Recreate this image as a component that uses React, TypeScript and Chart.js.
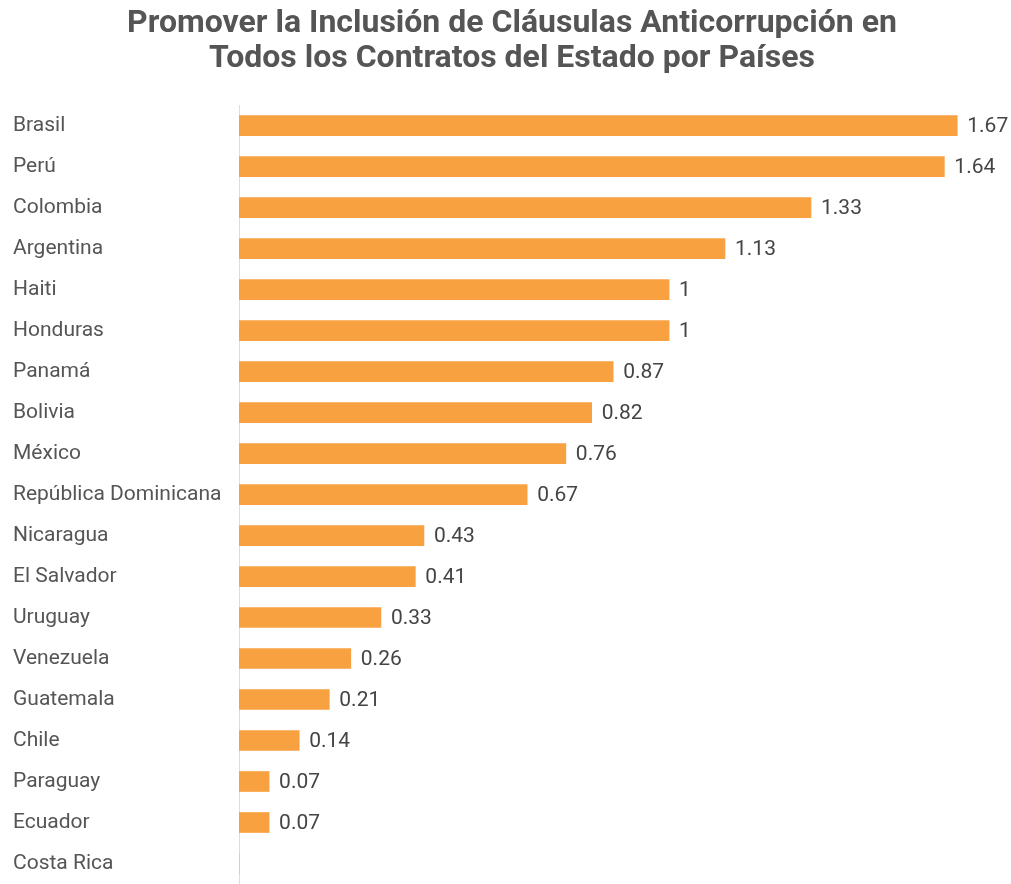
import React, { useEffect, useRef } from "react";
import { Chart, registerables } from "chart.js";

Chart.register(...registerables);

const countries = [
  "Brasil", "Perú", "Colombia", "Argentina", "Haiti", "Honduras", "Panamá", "Bolivia",
  "México", "República Dominicana", "Nicaragua", "El Salvador", "Uruguay", "Venezuela",
  "Guatemala", "Chile", "Paraguay", "Ecuador", "Costa Rica",
];
const values = [1.67, 1.64, 1.33, 1.13, 1, 1, 0.87, 0.82, 0.76, 0.67, 0.43, 0.41, 0.33, 0.26, 0.21, 0.14, 0.07, 0.07, 0];
const titleLines = [
  "Promover la Inclusión de Cláusulas Anticorrupción en",
  "Todos los Contratos del Estado por Países",
];

const valueLabels = {
  id: "valueLabels",
  afterDatasetsDraw(chart: any) {
    const ctx = chart.ctx;
    const meta = chart.getDatasetMeta(0);
    ctx.save();
    ctx.font = "21px Roboto";
    ctx.fillStyle = "#444444";
    ctx.textAlign = "left";
    ctx.textBaseline = "middle";
    meta.data.forEach((bar: any, i: number) => {
      const v = values[i];
      if (!v) return;
      ctx.fillText(String(v), bar.x + 10, bar.y + 1);
    });
    ctx.restore();
  },
};

export default function App() {
  const ref = useRef<HTMLCanvasElement | null>(null);
  useEffect(() => {
    if (!ref.current) return;
    const chart = new Chart(ref.current, {
      type: "bar",
      data: {
        labels: countries,
        datasets: [
          {
            data: values,
            backgroundColor: "#F8A140",
            barThickness: 20,
          },
        ],
      },
      options: {
        indexAxis: "y",
        responsive: false,
        animation: false,
        layout: { padding: { left: 13, right: 0, top: 0, bottom: 0 } },
        plugins: {
          legend: { display: false },
          tooltip: { enabled: false },
          title: {
            display: true,
            text: titleLines,
            color: "#555555",
            font: { family: "Roboto", size: 32, weight: "bold", lineHeight: 1.08 },
            padding: { top: 7, bottom: 29 },
          },
        },
        scales: {
          x: { display: false, min: 0, max: 1.795 },
          y: {
            grid: { display: false },
            border: { display: true, color: "#dddddd", width: 1 },
            ticks: {
              crossAlign: "far",
              color: "#555555",
              font: { family: "Roboto", size: 21 },
            },
            afterFit(scale: any) {
              scale.width = 226;
              scale.paddingTop = 0;
              scale.paddingBottom = 0;
            },
          },
        },
      },
      plugins: [valueLabels],
    } as any);
    return () => chart.destroy();
  }, []);
  return (
    <div style={{ position: "fixed", left: 0, top: 0, width: 1011, height: 884, overflow: "hidden", background: "#fff" }}>
      <canvas ref={ref} width={1011} height={884} style={{ display: "block" }} />
    </div>
  );
}
